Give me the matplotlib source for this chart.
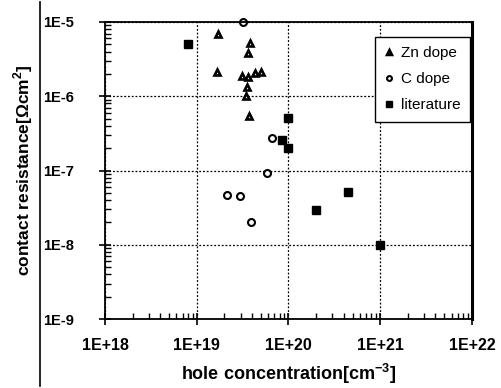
import matplotlib
matplotlib.use("agg")
import matplotlib.pyplot as plt
from matplotlib import rcParams
from matplotlib.lines import Line2D
from matplotlib.ticker import LogLocator, FuncFormatter, NullFormatter
import numpy as np

rcParams['font.family'] = ["Liberation Sans", "DejaVu Sans"]
rcParams['mathtext.fontset'] = "custom"
rcParams['mathtext.rm'] = "Liberation Sans"
rcParams['mathtext.bf'] = "Liberation Sans:bold"

# Zn doped samples
zn_x = [1.72e19, 3.76e19, 3.6e19, 1.65e19, 3.14e19, 3.6e19, 4.37e19, 5.0e19, 3.5e19, 3.44e19, 3.72e19]
zn_y = [6.8e-6, 5.2e-6, 3.86e-6, 2.1e-6, 1.9e-6, 1.84e-6, 2.04e-6, 2.1e-6, 1.35e-6, 1.0e-6, 5.5e-7]

# C doped samples
c_x = [3.2e19, 6.6e19, 5.9e19, 2.15e19, 2.95e19, 3.9e19]
c_y = [1.0e-5, 2.7e-7, 9.3e-8, 4.7e-8, 4.6e-8, 2.0e-8]

# literature values
lit_x = [8.0e18, 1.0e20, 8.5e19, 1.0e20, 2.0e20, 4.4e20, 1.0e21]
lit_y = [5.0e-6, 5.1e-7, 2.6e-7, 2.0e-7, 2.9e-8, 5.2e-8, 1.0e-8]

fig = plt.figure(figsize=(5.01, 3.88), dpi=100)
ax = fig.add_axes([0.2096, 0.1778, 0.7324, 0.7655])

ax.plot(zn_x, zn_y, ls="none", marker="^", ms=5, mfc="white", mec="black", mew=1.9,
        label="Zn dope", clip_on=False)
ax.plot(c_x, c_y, ls="none", marker="o", ms=5, mfc="white", mec="black", mew=1.5,
        label="C dope", clip_on=False)
ax.plot(lit_x, lit_y, ls="none", marker="s", ms=6, mfc="black", mec="black",
        label="literature", clip_on=False)

ax.set_xscale("log")
ax.set_yscale("log")
ax.set_xlim(1e18, 1e22)
ax.set_ylim(1e-9, 1e-5)

ax.xaxis.set_major_locator(LogLocator(base=10, numticks=10))
ax.yaxis.set_major_locator(LogLocator(base=10, numticks=10))
ax.xaxis.set_minor_locator(LogLocator(base=10, subs=np.arange(2, 10), numticks=20))
ax.yaxis.set_minor_locator(LogLocator(base=10, subs=np.arange(2, 10), numticks=20))
ax.xaxis.set_major_formatter(FuncFormatter(lambda v, p: "1E%+d" % int(round(np.log10(v)))))
ax.yaxis.set_major_formatter(FuncFormatter(lambda v, p: "1E%d" % int(round(np.log10(v)))))
ax.xaxis.set_minor_formatter(NullFormatter())
ax.yaxis.set_minor_formatter(NullFormatter())

ax.tick_params(which="major", direction="inout", length=8, width=1.2)
ax.tick_params(which="minor", direction="in", length=4, width=1)
ax.tick_params(axis="x", which="major", pad=10, labelsize=11.5)
ax.tick_params(axis="y", which="major", pad=18, labelsize=10.5)
for lab in ax.get_xticklabels() + ax.get_yticklabels():
    lab.set_fontweight("bold")

ax.grid(True, which="major", ls=(0, (1.5, 1.5)), color="black", lw=0.9)
for s in ax.spines.values():
    s.set_linewidth(1.3)
ax.spines["right"].set_linewidth(2.2)

ax.set_xlabel("hole concentration[cm$^{\\mathbf{-3}}$]", fontsize=13, fontweight="bold", labelpad=6)
ax.set_ylabel("contact resistance[$\\mathbf{\\Omega}$cm$^{\\mathbf{2}}$]", fontsize=12.5,
              fontweight="bold", labelpad=6)

leg = ax.legend(loc="upper right", bbox_to_anchor=(0.995, 0.95), borderaxespad=0.0,
                fontsize=11, frameon=True, fancybox=False, framealpha=1, edgecolor="black",
                handlelength=0.6, handletextpad=0.5, borderpad=0.6, labelspacing=0.8,
                markerscale=0.7)
leg.get_frame().set_linewidth(1.0)

# page edge from the scan
fig.add_artist(Line2D([0.08, 0.08], [0.005, 0.995], color="black", lw=1.2))

fig.savefig("out.png", dpi=100)
